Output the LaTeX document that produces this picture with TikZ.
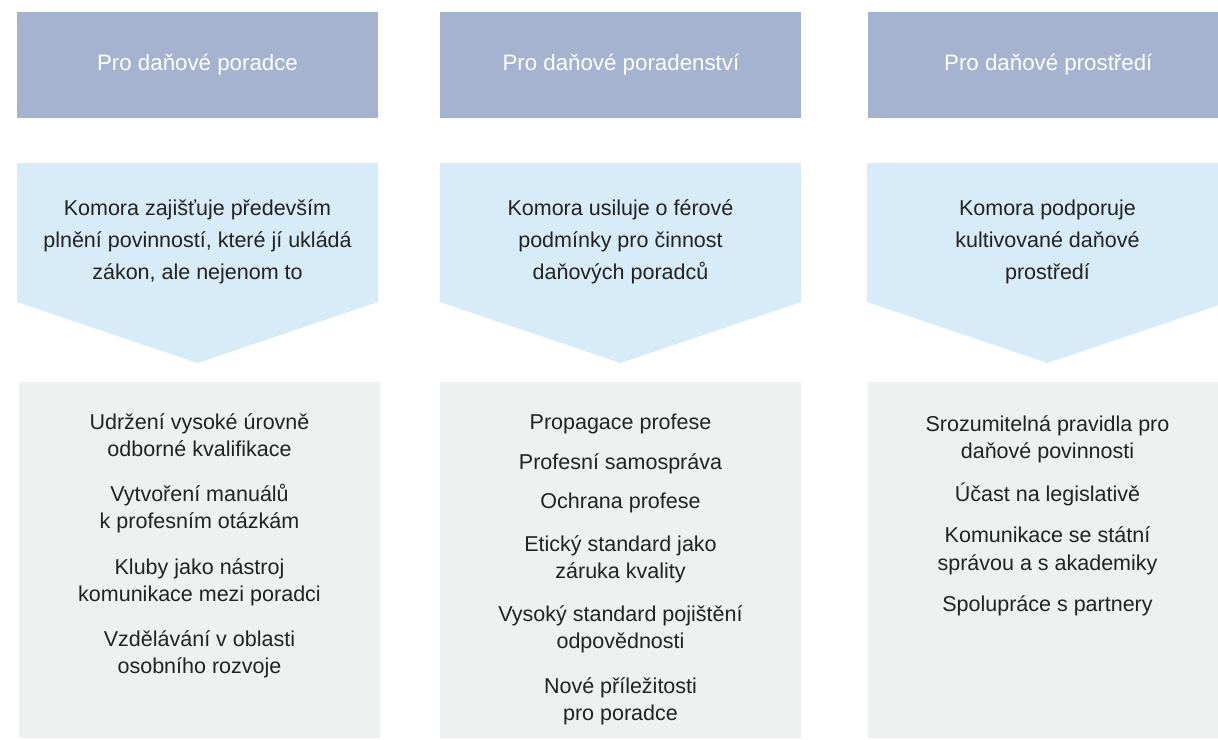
\documentclass[tikz,border=0pt]{standalone}
\usepackage{fontspec}
\setmainfont{Liberation Sans}
\usetikzlibrary{positioning}
\definecolor{headblue}{HTML}{A5B2D0}
\definecolor{goalblue}{HTML}{D7EBF8}
\definecolor{listgray}{HTML}{EFF0F0}
\definecolor{inkdark}{HTML}{222222}
\begin{document}
\begin{tikzpicture}[x=1pt, y=-1pt,
  head/.style={fill=headblue, text=white, minimum width=361pt, minimum height=106pt, inner sep=0pt, font=\fontsize{22.3}{26}\selectfont},
  goal/.style={text=inkdark, align=center, inner sep=0pt, font=\fontsize{21.5}{32}\selectfont},
  listbox/.style={fill=listgray, minimum width=361pt, minimum height=356pt, inner sep=0pt},
  items/.style={text=inkdark, align=center, inner sep=0pt, anchor=north, font=\fontsize{21.5}{27.5}\selectfont}]

\clip (0,0) rectangle (1218,739);

% Headers
\node (head1) [head] at (197.5,65) {Pro daňové poradce};
\node (head2) [head, right=62pt of head1] {Pro daňové poradenství};
\node (head3) [head, right=66pt of head2] {Pro daňové prostředí};

% Chevrons
\foreach \l in {17,440,867}
  \fill[goalblue] (\l,163) -- ++(361,0) -- ++(0,139) -- ++(-180.5,61) -- ++(-180.5,-61) -- cycle;

\node (goal1) [goal] at (197.5,242) {Komora zajišťuje především\\plnění povinností, které jí ukládá\\zákon, ale nejenom to};
\node (goal2) [goal] at (620.5,242) {Komora usiluje o férové\\podmínky pro činnost\\daňových poradců};
\node (goal3) [goal] at (1047.5,242) {Komora podporuje\\kultivované daňové\\prostředí};

% Lists
\node (list1) [listbox, anchor=north] at (199.5,382) {};
\node (list2) [listbox, right=60pt of list1] {};
\node (list3) [listbox, right=66pt of list2] {};

\node (items1) [items] at (199.5,413) {Udržení vysoké úrovně\\odborné kvalifikace\\[17pt]Vytvoření manuálů\\k profesním otázkám\\[18pt]Kluby jako nástroj\\komunikace mezi poradci\\[17pt]Vzdělávání v oblasti\\osobního rozvoje};
\node (items2) [items] at (620.5,414) {Propagace profese\\[12pt]Profesní samospráva\\[12pt]Ochrana profese\\[15pt]Etický standard jako\\záruka kvality\\[15pt]Vysoký standard pojištění\\odpovědnosti\\[17pt]Nové příležitosti\\pro poradce};
\node (items3) [items] at (1047.5,415) {Srozumitelná pravidla pro\\daňové povinnosti\\[15pt]Účast na legislativě\\[14pt]Komunikace se státní\\správou a s akademiky\\[14pt]Spolupráce s partnery};

\end{tikzpicture}
\end{document}
